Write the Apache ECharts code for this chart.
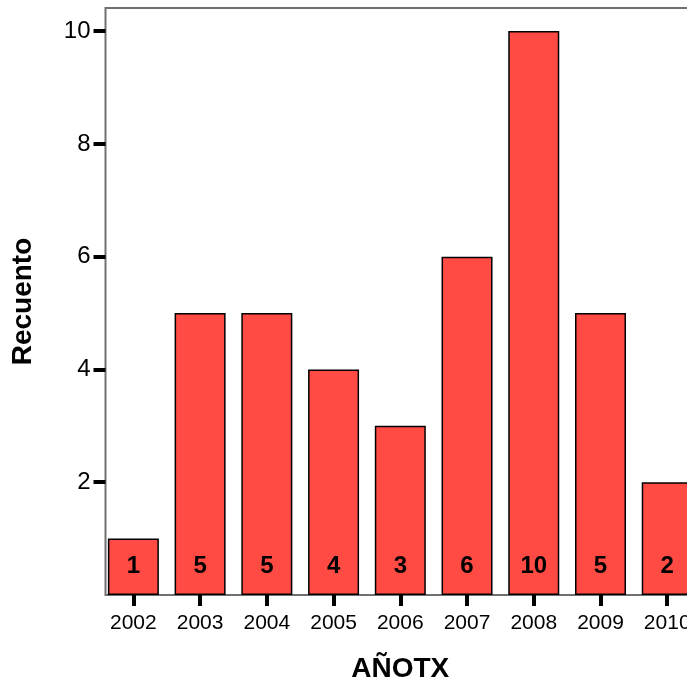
<!DOCTYPE html>
<html>
<head>
<meta charset="utf-8">
<script src="https://cdn.jsdelivr.net/npm/echarts@6/dist/echarts.min.js"></script>
<style>
html,body{margin:0;padding:0;background:#fff;}
#chart{width:687px;height:688px;}
</style>
</head>
<body>
<div id="chart"></div>
<script>
var categories = ['2002','2003','2004','2005','2006','2007','2008','2009','2010'];
var counts = [1, 5, 5, 4, 3, 6, 10, 5, 2];
var yTicks = [2, 4, 6, 8, 10];
var xTitle = 'AÑOTX';
var yTitle = 'Recuento';

var chart = echarts.init(document.getElementById('chart'), null, {renderer: 'canvas'});
var FONT = '"Liberation Sans", Arial, sans-serif';
chart.setOption({
  animation: false,
  backgroundColor: '#ffffff',
  grid: [
    {left: 100, width: 600.6, top: 8, bottom: 93, containLabel: false, outerBoundsMode: 'none'},
    {left: 105.5, width: 590, top: 8, bottom: 93, show: true, borderColor: '#707070', borderWidth: 2, backgroundColor: 'transparent', z: 0, outerBoundsMode: 'none'}
  ],
  xAxis: [
    {
      type: 'category', gridIndex: 0, data: categories,
      name: xTitle, nameLocation: 'middle', nameGap: 60,
      nameTextStyle: {fontFamily: FONT, fontSize: 28, fontWeight: 'bold', color: '#000'},
      axisLine: {show: false},
      axisTick: {show: true, alignWithLabel: true, interval: 0, length: 11, lineStyle: {color: '#000', width: 4}},
      axisLabel: {interval: 0, margin: 18, fontFamily: FONT, fontSize: 21, color: '#000'},
      splitLine: {show: false}
    },
    {type: 'category', gridIndex: 1, data: categories, show: false}
  ],
  yAxis: [
    {
      type: 'value', gridIndex: 0, min: 0, max: 10.41, offset: -5.5,
      name: yTitle, nameLocation: 'middle', nameGap: 68,
      nameTextStyle: {fontFamily: FONT, fontSize: 28, fontWeight: 'bold', color: '#000'},
      axisLine: {show: false},
      axisTick: {show: true, length: 12, customValues: yTicks, lineStyle: {color: '#000', width: 4}},
      axisLabel: {margin: 15, customValues: yTicks, fontFamily: FONT, fontSize: 24, color: '#000', padding: [6, 0, 0, 0]},
      splitLine: {show: false}
    },
    {type: 'value', gridIndex: 1, min: 0, max: 10.41, show: false}
  ],
  series: [{
    type: 'bar', xAxisIndex: 0, yAxisIndex: 0,
    data: counts,
    barWidth: 51,
    itemStyle: {color: '#FF4B43', borderColor: '#000', borderWidth: 1.5},
    label: {
      show: true, position: 'insideBottom', distance: 17,
      fontFamily: FONT, fontSize: 24, fontWeight: 'bold', color: '#000'
    }
  }]
});
</script>
</body>
</html>
